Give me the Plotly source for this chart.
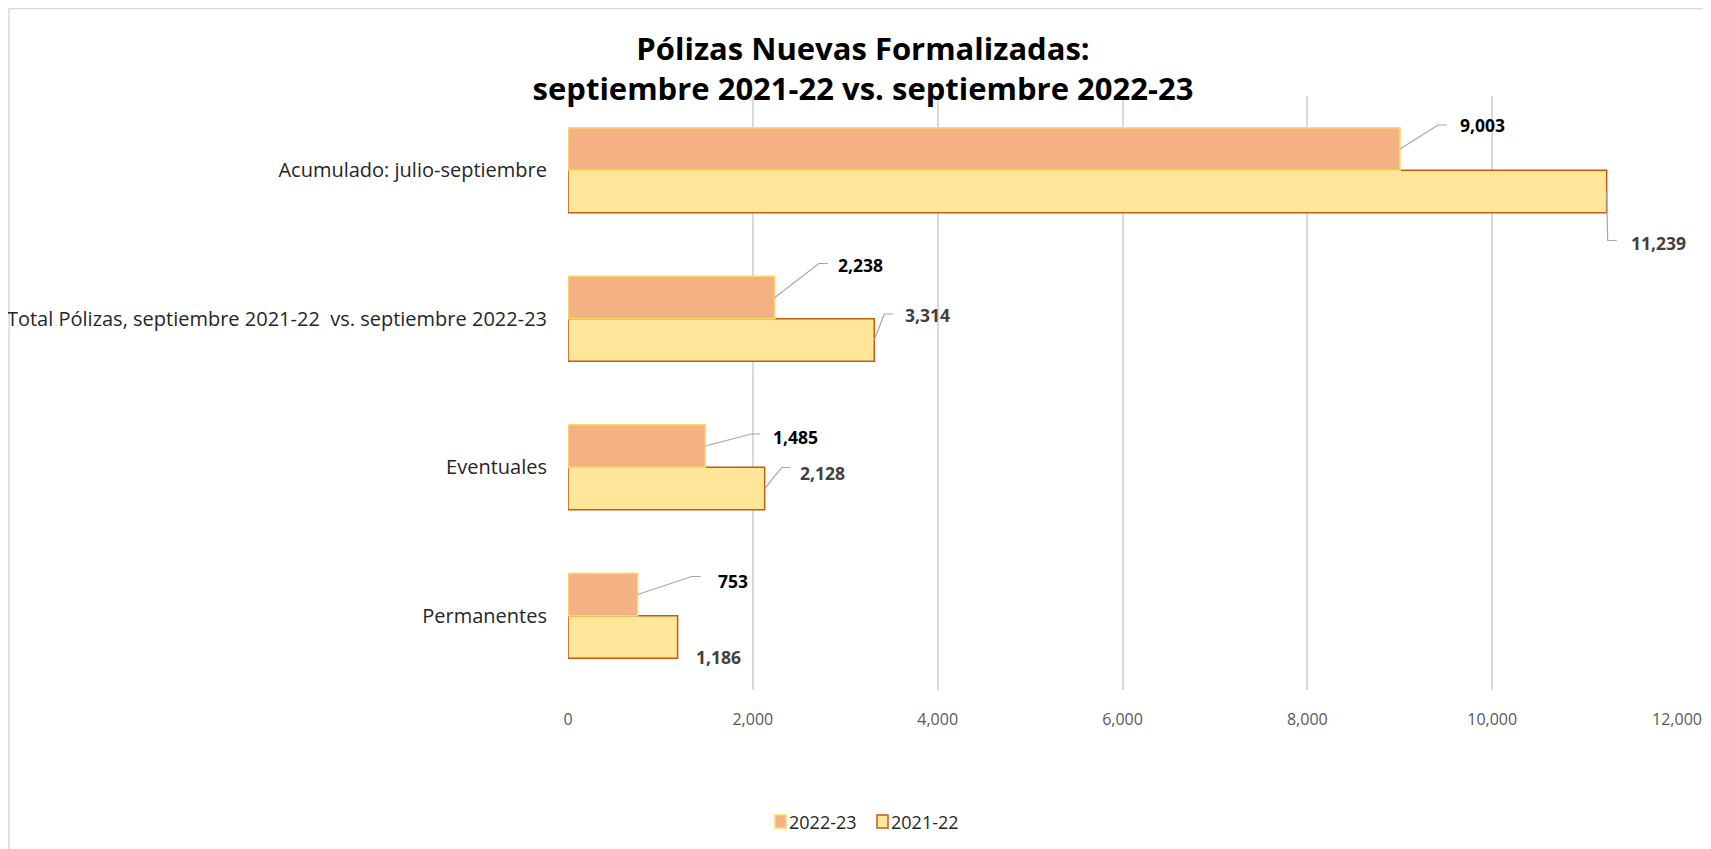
import plotly.graph_objects as go

# ---- data ----
categories = ["Permanentes", "Eventuales",
              "Total Pólizas, septiembre 2021-22  vs. septiembre 2022-23",
              "Acumulado: julio-septiembre"]
series_2021_22 = [1186, 2128, 3314, 11239]
series_2022_23 = [753, 1485, 2238, 9003]
series_names = ["2022-23", "2021-22"]
x_ticks = [0, 2000, 4000, 6000, 8000, 10000, 12000]

# ---- style / layout constants ----
W, H = 1711, 849
ML, MR, MT, MB = 560, 42, 88, 167
BARGAP = 0.427
half = (1 - BARGAP) / 4  # offset of each bar centre from category centre
pw = W - ML - MR
ph = H - MT - MB

C_2223, L_2223 = "#F4B183", "#FFD966"
C_2122, L_2122 = "#FFE699", "#C55A11"


def px_x(p):
    return (p - ML) / pw


def px_y(p):
    return (H - MB - p) / ph


# label offsets in pixels relative to bar end (leader corner dx, dy (down +), text dx, text dy)
lead_2223 = [(54, -18, 78, -13), (46, -12, 66, -9), (44, -34, 61, -32), (38, -24, 58, -24)]
lead_2122 = [(0, 0, 16, 20), (17, -21, 33, -16), (10, -26, 29, -25), (1, 49, 22, 51)]
has_leader_2122 = [False, True, True, True]

fig = go.Figure()
fig.add_trace(go.Bar(
    y=categories, x=series_2021_22, orientation="h", name=series_names[1],
    marker=dict(color=C_2122, line=dict(color=L_2122, width=1.5)),
    showlegend=False, hoverinfo="x+name"))
fig.add_trace(go.Bar(
    y=categories, x=series_2022_23, orientation="h", name=series_names[0],
    marker=dict(color=C_2223, line=dict(color=L_2223, width=1.5)),
    showlegend=False, hoverinfo="x+name"))

shapes = []
annotations = []


def add_label(val, ypos, off, color, leader=True):
    ldx, ldy, tdx, tdy = off
    if leader:
        shapes.append(dict(
            type="path", xref="x", yref="y", xsizemode="pixel", ysizemode="pixel",
            xanchor=val, yanchor=ypos,
            path=f"M0,0 L{ldx},{-ldy} L{ldx + 9},{-ldy}",
            line=dict(color="#A6A6A6", width=1.2)))
    annotations.append(dict(
        x=val, y=ypos, xref="x", yref="y", text=f"<b>{val:,}</b>",
        showarrow=False, xanchor="left", yanchor="middle",
        xshift=tdx, yshift=-tdy,
        font=dict(family="Open Sans", size=17.5, color=color)))


for i, v in enumerate(series_2022_23):
    add_label(v, i + half, lead_2223[i], "#000000")
for i, v in enumerate(series_2021_22):
    add_label(v, i - half, lead_2122[i], "#404040", leader=has_leader_2122[i])

# outer chart border (left + top visible)
shapes.append(dict(type="rect", xref="paper", yref="paper",
                   x0=px_x(1), x1=px_x(W + 5), y0=px_y(H + 5), y1=px_y(0.5),
                   line=dict(color="#D9D9D9", width=1.5), layer="below"))

# custom legend (fig pixel positions)
legend_items = [(767, series_names[0], C_2223, L_2223),
                (869, series_names[1], C_2122, L_2122)]
for lx, name, fc, lc in legend_items:
    shapes.append(dict(type="rect", xref="paper", yref="paper",
                       x0=px_x(lx), x1=px_x(lx + 11), y0=px_y(820), y1=px_y(807),
                       fillcolor=fc, line=dict(color=lc, width=1.5)))
    annotations.append(dict(x=px_x(lx + 12), y=px_y(814), xref="paper", yref="paper",
                            text=name, showarrow=False, xanchor="left", yanchor="middle",
                            font=dict(family="Open Sans", size=18, color="#262626")))

fig.update_layout(
    width=W, height=H,
    margin=dict(l=ML, r=MR, t=MT, b=MB, autoexpand=False),
    paper_bgcolor="white", plot_bgcolor="white",
    barmode="group", bargap=BARGAP, bargroupgap=0,
    showlegend=False,
    title=dict(text="<b>Pólizas Nuevas Formalizadas:<br>septiembre 2021-22 vs. septiembre 2022-23</b>",
               x=855 / W, xanchor="center", y=1 - 52 / H, yanchor="middle",
               font=dict(family="Open Sans", size=31, color="#000000")),
    xaxis=dict(range=[0, 12000], tickvals=x_ticks, tickformat=",d",
               showgrid=True, gridcolor="#D9D9D9", gridwidth=1.5,
               zeroline=False, showline=False, automargin=False,
               tickfont=dict(family="Open Sans", size=16, color="#595959"),
               ticklabelstandoff=18, fixedrange=True),
    yaxis=dict(categoryorder="array", categoryarray=categories,
               range=[-0.5, 3.5], showgrid=False, zeroline=False,
               showline=False, ticks="", automargin=False,
               tickfont=dict(family="Open Sans", size=20, color="#262626"),
               ticklabelstandoff=20, fixedrange=True),
    shapes=shapes, annotations=annotations,
)

fig.write_html("out.html")
